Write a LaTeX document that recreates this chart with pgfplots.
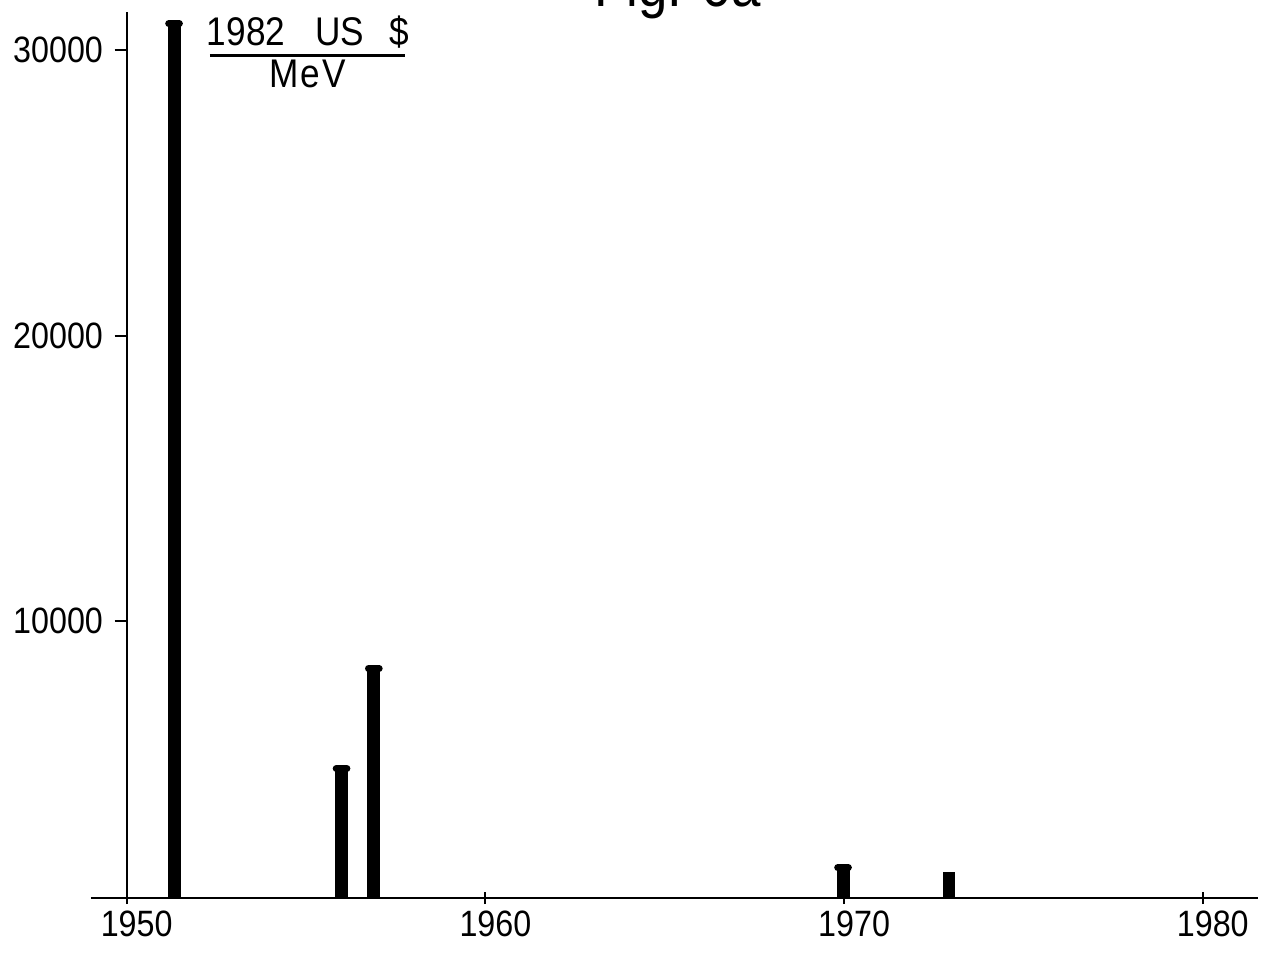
\documentclass[border=0pt]{standalone}
\usepackage{fontspec}
\setmainfont{Liberation Sans}[FakeStretch=0.88]
\usepackage{pgfplots}
\pgfplotsset{compat=1.18}

% bar tops (cap centres), cost in 1982 US $ per MeV
\pgfplotstableread{
year  cost
1951.32 30930
1955.99 4834
1956.89 8337
1969.97 1366
}\capped
\pgfplotstableread{
year  cost
1972.92 1209
}\plain

\begin{document}
\begin{tikzpicture}
\begin{axis}[
    scale only axis,
    width=339.4pt, height=265.8pt,
    xmin=1950, xmax=1981.54,
    ymin=298, ymax=31334,
    axis x line=bottom, axis y line=left,
    axis line style={-, line width=0.6pt},
    clip mode=individual,
    xtick={1950,1960,1970,1980},
    ytick={10000,20000,30000},
    scaled y ticks=false,
    xtick align=center, ytick align=outside,
    major tick length=3.6pt,
    tick style={line width=0.6pt, black},
    /pgf/number format/1000 sep={},
    /pgf/number format/assume math mode=true,
    tick label style={font=\fontsize{11}{13}\selectfont},
    xticklabel style={yshift=1.5pt, xshift=3pt},
]
\addplot[ycomb, black, line width=3.9pt] table[x=year, y=cost] {\capped};
\addplot[only marks, mark=-, mark size=1.6pt, black,
    mark options={line width=2.1pt, line cap=round}] table[x=year, y=cost] {\capped};
\addplot[ycomb, black, line width=3.6pt] table[x=year, y=cost] {\plain};

\draw[line width=0.6pt] (axis cs:1949.005,298) -- (axis cs:1950,298);

\node[font=\fontsize{12}{13}\selectfont, anchor=base] at (axis cs:1955.05,30150) {1982\hspace{9pt}US\hspace{7.5pt}\$};
\draw[line width=0.9pt] (axis cs:1952.32,29828) -- (axis cs:1957.76,29828);
\node[font=\fontsize{12}{13}\selectfont, anchor=base] at (axis cs:1955.05,28680) {M\hspace{0.5pt}e\hspace{0.5pt}V};

\node[font=\fontsize{18}{20}\selectfont, anchor=base] at (axis cs:1965.35,31510) {Fig. 6a};

\coordinate (bl) at (axis cs:1946.468,-1769);
\coordinate (tr) at (axis cs:1981.734,31755);
\end{axis}
\pgfresetboundingbox
\path[use as bounding box] (bl) rectangle (tr);
\end{tikzpicture}
\end{document}
